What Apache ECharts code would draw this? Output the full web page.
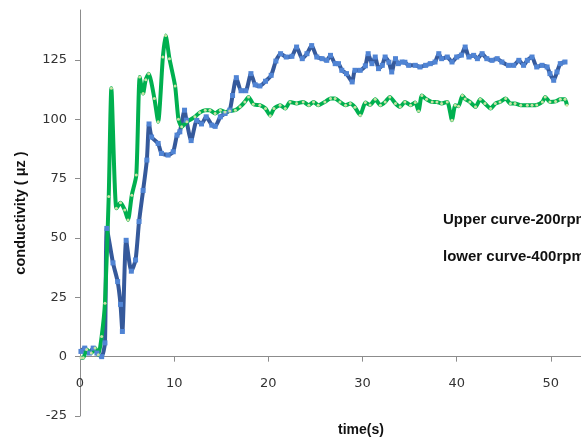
<!DOCTYPE html>
<html>
<head>
<meta charset="utf-8">
<script src="https://cdn.jsdelivr.net/npm/echarts@6/dist/echarts.min.js"></script>
<style>
  html, body { margin: 0; padding: 0; background: #fff; }
  #chart { width: 581px; height: 441px; }
</style>
</head>
<body>
<div id="chart"></div>
<script>
// Conductivity readings over time for two stirring speeds.
var xTicks = [0, 10, 20, 30, 40, 50];
var yTicks = [-25, 0, 25, 50, 75, 100, 125];

// 200 rpm run (upper curve)
var time200 = [0.1, 0.5, 1.0, 1.4, 1.8, 2.3, 2.65, 2.85, 3.5, 4.0, 4.3, 4.5, 4.9, 5.45, 5.9, 6.27, 6.7, 7.1, 7.33, 7.6,
  8.3, 8.65, 9.35, 9.9, 10.3, 10.6, 11.1, 11.3, 11.8, 12.4, 12.9, 13.4, 14.0, 14.35, 14.9, 15.4, 15.9, 16.2, 16.6, 17.1,
  17.6, 18.15, 18.6, 19.1, 19.7, 20.3, 20.8, 21.3, 21.9, 22.5, 23.0, 23.6, 24.1, 24.6, 25.15, 25.7, 26.2, 26.6, 27.1, 27.45,
  27.8, 28.3, 28.9, 29.2, 29.75, 30.3, 30.6, 31.0, 31.35, 31.7, 32.1, 32.4, 32.8, 33.1, 33.5, 33.8, 34.2, 34.5, 34.9, 35.6,
  36.1, 36.7, 37.2, 37.7, 38.1, 38.4, 39.0, 39.5, 40.0, 40.5, 40.9, 41.3, 41.8, 42.2, 42.7, 43.2, 43.75, 44.3, 44.8, 45.5,
  46.05, 46.6, 47.1, 47.5, 48.0, 48.5, 49.06, 49.6, 49.9, 50.3, 50.65, 51.0, 51.5];
var cond200 = [2.2, 3.6, 1.5, 3.6, 1.5, 0, 5.8, 54, 39.5, 31.6, 22, 10.6, 49, 36, 40.7, 56.9, 70, 82.8, 98, 92.5,
  89.8, 85.6, 84.9, 86.3, 93.3, 94.7, 103.8, 99.6, 91, 99.5, 98, 101, 97.5, 97, 101, 102.4, 103.8, 110, 117.5, 112,
  112, 119.2, 114.5, 114, 116, 118.5, 124.5, 127.6, 126.2, 126.5, 130.4, 125.5, 127.6, 131, 126.2, 125.5, 124.8, 126.9, 123.4, 123.4,
  120.6, 119.2, 115.7, 120.6, 120.6, 122.5, 127.6, 123.4, 126.2, 121.3, 122.7, 126.2, 124, 119.9, 125.5, 123.4, 124.1, 124, 122.7, 122.7,
  122, 122.7, 123.4, 124.1, 127.6, 125.5, 126.2, 124.1, 126.2, 127, 130.4, 126.2, 126.9, 125.5, 127.6, 125.5, 124.8, 125.5, 124.1, 122.7,
  122.7, 124.8, 122.7, 124.8, 126.2, 122, 122.7, 122, 119.2, 116.4, 119.9, 123.4, 124.1];

// 400 rpm run (lower curve)
var time400 = [0.1, 0.35, 0.7, 1.2, 1.6, 1.95, 2.3, 2.65, 3.05, 3.33, 3.86, 4.3, 4.75, 5.1, 5.5, 5.98, 6.34, 6.7, 6.98, 7.3,
  7.9, 8.3, 8.8, 9.1, 9.5, 10.1, 10.45, 10.8, 11.35, 12.2, 12.7, 13.3, 13.8, 14.35, 14.9, 15.4, 15.9, 16.5, 17.0, 17.5,
  17.9, 18.4, 19.1, 19.7, 20.2, 20.6, 21.25, 21.8, 22.3, 23.0, 23.7, 24.3, 24.8, 25.3, 26.0, 26.6, 27.1, 27.6, 28.2, 28.7,
  29.2, 29.75, 30.3, 30.8, 31.35, 31.9, 32.4, 32.9, 33.5, 34.0, 34.5, 35.1, 35.6, 35.95, 36.3, 36.8, 37.4, 37.9, 38.4, 39.0,
  39.5, 39.85, 40.2, 40.6, 40.9, 41.4, 42.0, 42.5, 43.0, 43.6, 44.1, 44.6, 45.2, 45.7, 46.2, 46.8, 47.5, 48.0, 48.5, 49.1,
  49.4, 49.9, 50.5, 51.0, 51.5, 51.7];
var cond400 = [-0.5, -0.5, 3, 1.5, 3.6, 0.8, 8.5, 22.5, 67.4, 113, 62.5, 64.8, 61.8, 57.6, 68, 76.5, 117.8, 110.8, 116.6, 119.2,
  108.7, 98.9, 126.2, 135.3, 125.5, 114, 100, 96.8, 98.9, 101, 102.8, 103.8, 103.8, 102.4, 103.8, 103, 103.5, 103.8, 105.2, 107.3,
  109.4, 106.3, 105.9, 104.5, 101.5, 104.5, 105.9, 104.5, 107.3, 106.6, 107.3, 105.9, 107.3, 105.9, 107.3, 108.7, 108.7, 107.3, 105.9, 106.6,
  105, 101.7, 107, 106, 108.4, 105.9, 107.3, 109.4, 106.6, 105.2, 107.3, 105.9, 107, 103.5, 110, 108.4, 107.3, 107.3, 106.6, 107.3,
  99.6, 105.9, 105.5, 110, 108.5, 107.3, 105.2, 108.4, 106.6, 104.5, 106.6, 107.3, 108.7, 106.6, 106.6, 105.9, 105.9, 105.9, 106, 107.3,
  109.4, 107.3, 107.5, 108.4, 108.4, 105.9];

function pairs(xs, ys) {
  return xs.map(function (x, i) { return [x, ys[i]]; });
}

var yMin = -25, yMax = 146;
var gridTop = 10, gridBottom = 25, chartHeight = 441;
// Shift the time axis up so it runs along the zero line of the value axis.
var plotHeight = chartHeight - gridTop - gridBottom;
var zeroOffset = -plotHeight * (0 - yMin) / (yMax - yMin);

var tickFont = 'DejaVu Sans';
var titleFont = 'Liberation Sans';
var chart = echarts.init(document.getElementById('chart'), null, { renderer: 'canvas' });

chart.setOption({
  backgroundColor: '#ffffff',
  animation: false,
  grid: { left: 80, right: 0, top: gridTop, bottom: gridBottom, containLabel: false },
  xAxis: {
    type: 'value',
    min: 0,
    max: 53.2,
    position: 'bottom',
    offset: zeroOffset,
    axisLine: { onZero: false, lineStyle: { color: '#8c8c8c', width: 1 } },
    axisTick: { show: true, inside: false, length: 5, lineStyle: { color: '#8c8c8c' }, customValues: xTicks },
    axisLabel: { customValues: xTicks, margin: 20, color: '#333', fontFamily: tickFont, fontSize: 13 },
    splitLine: { show: false }
  },
  yAxis: {
    type: 'value',
    min: yMin,
    max: yMax,
    name: 'conductivity ( μz )',
    nameLocation: 'middle',
    nameRotate: 90,
    nameGap: 52,
    nameTextStyle: { fontFamily: titleFont, fontWeight: 'bold', fontSize: 14.5, color: '#111' },
    axisLine: { show: true, lineStyle: { color: '#8c8c8c', width: 1 } },
    axisTick: { show: true, length: 5, lineStyle: { color: '#8c8c8c' }, customValues: yTicks },
    axisLabel: { customValues: yTicks, margin: 13, color: '#333', fontFamily: tickFont, fontSize: 13 },
    splitLine: { show: false }
  },
  graphic: [
    { type: 'text', left: 338, top: 423, style: { text: 'time(s)', font: 'bold 14px "Liberation Sans"', fill: '#111' } },
    { type: 'text', left: 443, top: 212, style: { text: 'Upper curve-200rpm', font: 'bold 15px "Liberation Sans"', fill: '#111' } },
    { type: 'text', left: 443, top: 249, style: { text: 'lower curve-400rpm', font: 'bold 15px "Liberation Sans"', fill: '#111' } }
  ],
  series: [
    {
      name: 'Upper curve-200rpm',
      type: 'line',
      data: pairs(time200, cond200),
      smooth: 0.2,
      showSymbol: true,
      showAllSymbol: true,
      symbol: 'rect',
      symbolSize: 5,
      lineStyle: { color: '#35599b', width: 4 },
      itemStyle: { color: '#5084d4', borderWidth: 0 }
    },
    {
      name: 'lower curve-400rpm',
      type: 'line',
      data: pairs(time400, cond400),
      smooth: 0.2,
      showSymbol: true,
      showAllSymbol: true,
      symbol: 'circle',
      symbolSize: 3,
      lineStyle: { color: '#00b04f', width: 4 },
      itemStyle: { color: '#c9e3a6', borderWidth: 0 }
    }
  ]
});
</script>
</body>
</html>
